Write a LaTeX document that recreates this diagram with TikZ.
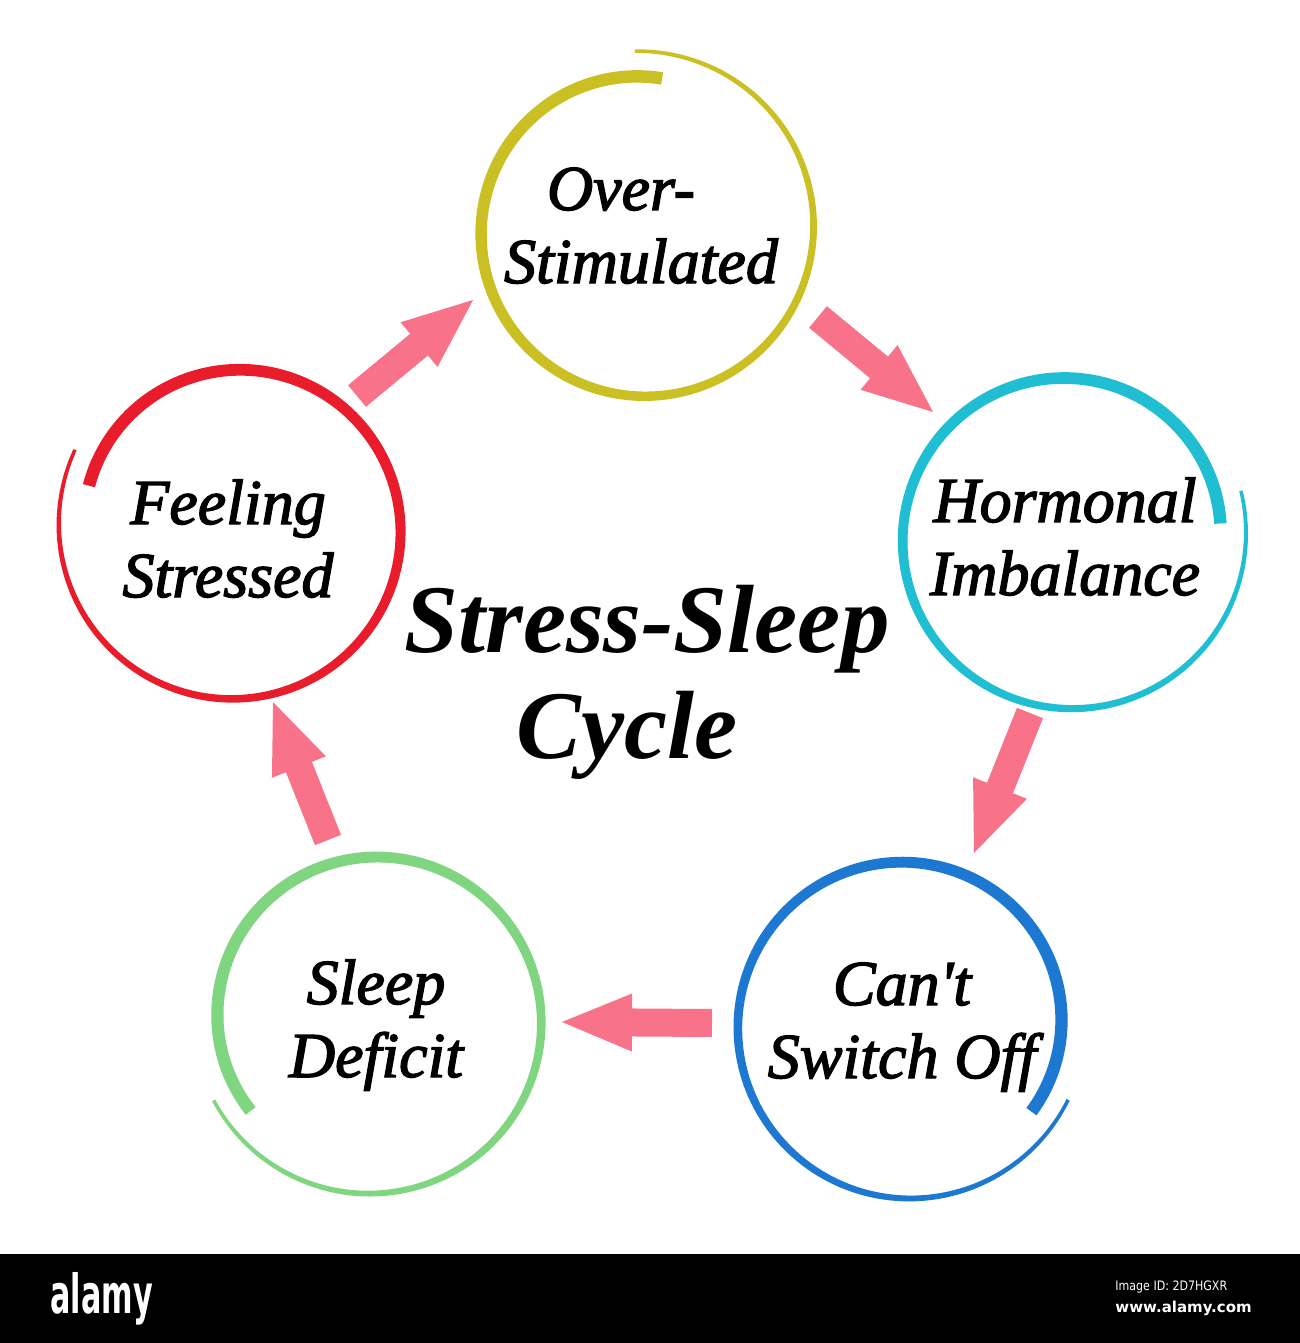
\documentclass[tikz,border=0pt]{standalone}
\usepackage{fontspec}
\usetikzlibrary{calc}
\newfontfamily\labfont[FakeBold=2.2]{Liberation Serif}
\newfontfamily\ttlfont{Liberation Serif}
\newfontfamily\wmfont{DejaVu Sans}
\definecolor{ringyel}{RGB}{202,192,36}
\definecolor{ringcyan}{RGB}{31,190,210}
\definecolor{ringred}{RGB}{232,28,42}
\definecolor{ringblue}{RGB}{28,120,208}
\definecolor{ringgreen}{RGB}{128,214,128}
\definecolor{arrowpink}{RGB}{248,114,138}
% brush ring: #1 centre name, #2 start angle, #3 direction, #4 colour
\newcommand\brushring[4]{%
  \fill[#4,shift={(#1)}] plot[domain=0:1,samples=180,variable=\t]
    ({(153+26*\t+(1.75+4.5*(1-\t^1.6)))*cos(#2+(#3)*370*\t)},
     {(153+26*\t+(1.75+4.5*(1-\t^1.6)))*sin(#2+(#3)*370*\t)})
    -- plot[domain=1:0,samples=180,variable=\t]
    ({(153+26*\t-(1.75+4.5*(1-\t^1.6)))*cos(#2+(#3)*370*\t)},
     {(153+26*\t-(1.75+4.5*(1-\t^1.6)))*sin(#2+(#3)*370*\t)})
    -- cycle;}
% fat arrow from tail coordinate #1 to tip coordinate #2
\newcommand\fatarrow[2]{%
  \coordinate (#2-b) at ($(#2)!35pt!(#1)$);
  \fill[arrowpink] ($(#1)!7pt!90:(#2)$) -- ($(#2-b)!7pt!90:(#2)$)
    -- ($(#2-b)!14.5pt!90:(#2)$) -- (#2) -- ($(#2-b)!14.5pt!-90:(#2)$)
    -- ($(#2-b)!7pt!-90:(#2)$) -- ($(#1)!7pt!-90:(#2)$) -- cycle;}
\tikzset{
  lab/.style={font=\labfont\itshape\fontsize{32}{36.5}\selectfont,
    align=center, inner sep=0pt, anchor=base},
  ttl/.style={font=\ttlfont\bfseries\itshape\fontsize{48.5}{53}\selectfont,
    align=center, inner sep=0pt, anchor=base},
}
\begin{document}
\begin{tikzpicture}[x=0.5pt,y=0.5pt]
\useasboundingbox (0,0) rectangle (1300,-1343);
\fill[white] (0,0) rectangle (1300,-1343);
% ring centres
\coordinate (overC) at (641,-230);
\coordinate (hormC) at (1068,-537);
\coordinate (feelC) at (236,-528);
\coordinate (cantC) at (906,-1024);
\coordinate (sleepC) at (373,-1019);
\brushring{overC}{82}{1}{ringyel}
\brushring{hormC}{5}{1}{ringcyan}
\brushring{feelC}{164}{-1}{ringred}
\brushring{cantC}{-35}{1}{ringblue}
\brushring{sleepC}{217}{-1}{ringgreen}
% labels (anchor = baseline of last line)
\node[lab] (over) at (641,-283) {Over-\hspace*{20pt}\\Stimulated};
\node[lab] (horm) at (1065,-595) {Hormonal\\Imbalance};
\node[lab] (feel) at (228,-597) {Feeling\\Stressed};
\node[lab] (cant) at (902,-1078) {Can't\\Switch Off};
\node[lab] (sleep) at (376,-1077) {Sleep\\Deficit};
\node[ttl] (title) at (647,-758) {Stress-Sleep\\Cycle\hspace*{20pt}};
% arrows
\coordinate (a1t) at (357,-396); \coordinate (a1h) at (473,-300);
\coordinate (a2t) at (818,-317); \coordinate (a2h) at (933,-412);
\coordinate (a3t) at (1030,-713); \coordinate (a3h) at (974,-853);
\coordinate (a4t) at (712,-1023); \coordinate (a4h) at (562,-1022);
\coordinate (a5t) at (328,-840); \coordinate (a5h) at (273,-702);
\fatarrow{a1t}{a1h}
\fatarrow{a2t}{a2h}
\fatarrow{a3t}{a3h}
\fatarrow{a4t}{a4h}
\fatarrow{a5t}{a5h}
% watermark bar
\fill[black] (0,-1254) rectangle (1300,-1343);
\node[anchor=base west, inner sep=0pt, text=white] (alamy) at (50,-1313)
  {\scalebox{0.56}[1]{\wmfont\bfseries\fontsize{27}{27}\selectfont alamy}};
\node[anchor=base west, inner sep=0pt, text=white] (imgid) at (1115,-1290)
  {\scalebox{0.85}[1]{\wmfont\fontsize{6.5}{7}\selectfont Image ID: 2D7HGXR}};
\node[anchor=base west, inner sep=0pt, text=white] (www) at (1115,-1312)
  {\scalebox{1.0}[1]{\wmfont\bfseries\fontsize{7.5}{8}\selectfont www.alamy.com}};
\end{tikzpicture}
\end{document}
